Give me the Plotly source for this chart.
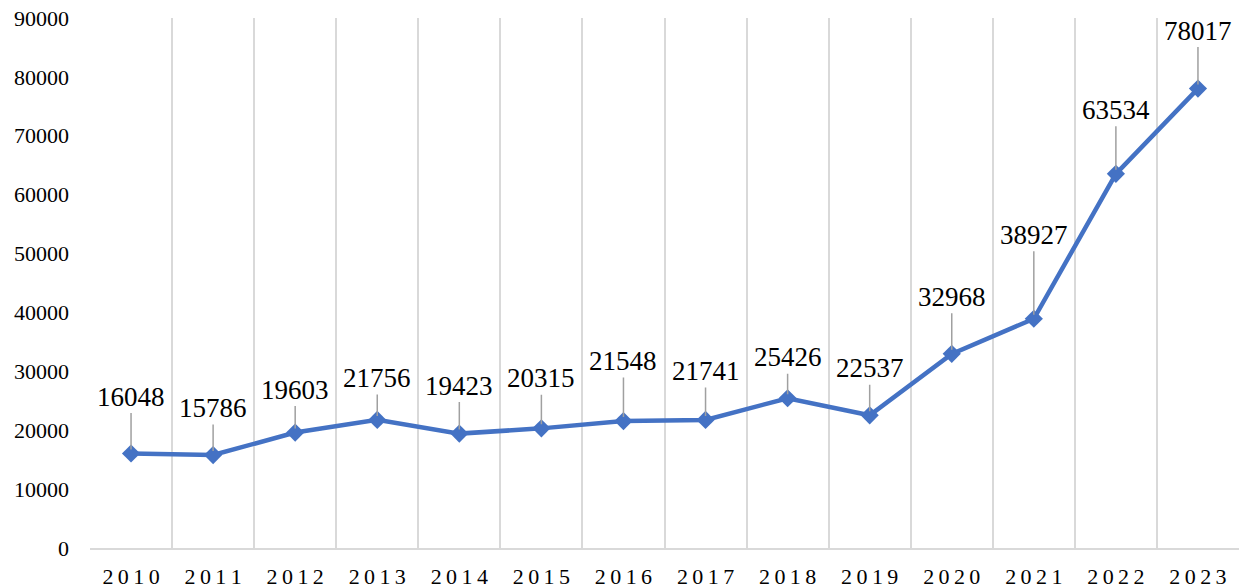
import plotly.graph_objects as go

years = ["2010", "2011", "2012", "2013", "2014", "2015", "2016",
         "2017", "2018", "2019", "2020", "2021", "2022", "2023"]
values = [16048, 15786, 19603, 21756, 19423, 20315, 21548,
          21741, 25426, 22537, 32968, 38927, 63534, 78017]
y_ticks = [0, 10000, 20000, 30000, 40000, 50000, 60000, 70000, 80000, 90000]

# label offsets (style only), pixels above each point
label_dy = [-57, -47, -43, -42, -48, -50, -60, -49, -41, -47, -57, -84, -64, -58]

FONT = "Liberation Serif"
LINE = "#4472C4"
GRID = "#d9d9d9"

fig = go.Figure()
fig.add_trace(go.Scatter(
    x=years, y=values, mode="lines+markers",
    line=dict(color=LINE, width=4.5),
    marker=dict(symbol="diamond", size=14, color=LINE),
    showlegend=False, hoverinfo="skip",
))

for i, (v, dy) in enumerate(zip(values, label_dy)):
    fig.add_annotation(
        x=i, y=v, xref="x", yref="y", text=str(v), showarrow=True,
        ax=0, ay=dy, arrowhead=0, arrowwidth=1.5, arrowcolor="#a0a0a0",
        standoff=4, font=dict(family=FONT, size=27, color="#000000"),
    )

fig.update_layout(
    width=1243, height=588,
    margin=dict(l=90, r=4, t=18, b=40),
    plot_bgcolor="white", paper_bgcolor="white",
    font=dict(family=FONT, color="#000000"),
)
fig.update_xaxes(
    type="category", categoryorder="array", categoryarray=years,
    tickvals=years, ticktext=["\u2009".join(list(y)) for y in years],
    tickson="boundaries", showgrid=True, gridcolor=GRID, gridwidth=1.5,
    showline=True, linecolor=GRID, linewidth=1.5,
    ticks="", range=[-0.5, 13.5], automargin=False,
    tickfont=dict(family=FONT, size=22, color="#000000"),
    ticklabelstandoff=8,
)
fig.update_yaxes(
    range=[0, 90000], tickvals=y_ticks, ticktext=[str(t) for t in y_ticks],
    showgrid=False, zeroline=False, showline=False, ticks="",
    automargin=False,
    tickfont=dict(family=FONT, size=22, color="#000000"),
    ticklabelstandoff=20,
)

fig.write_html(
    "out.html",
    config={"displayModeBar": False},
    post_script="document.body.style.margin='0px';document.body.style.padding='0px';",
)
